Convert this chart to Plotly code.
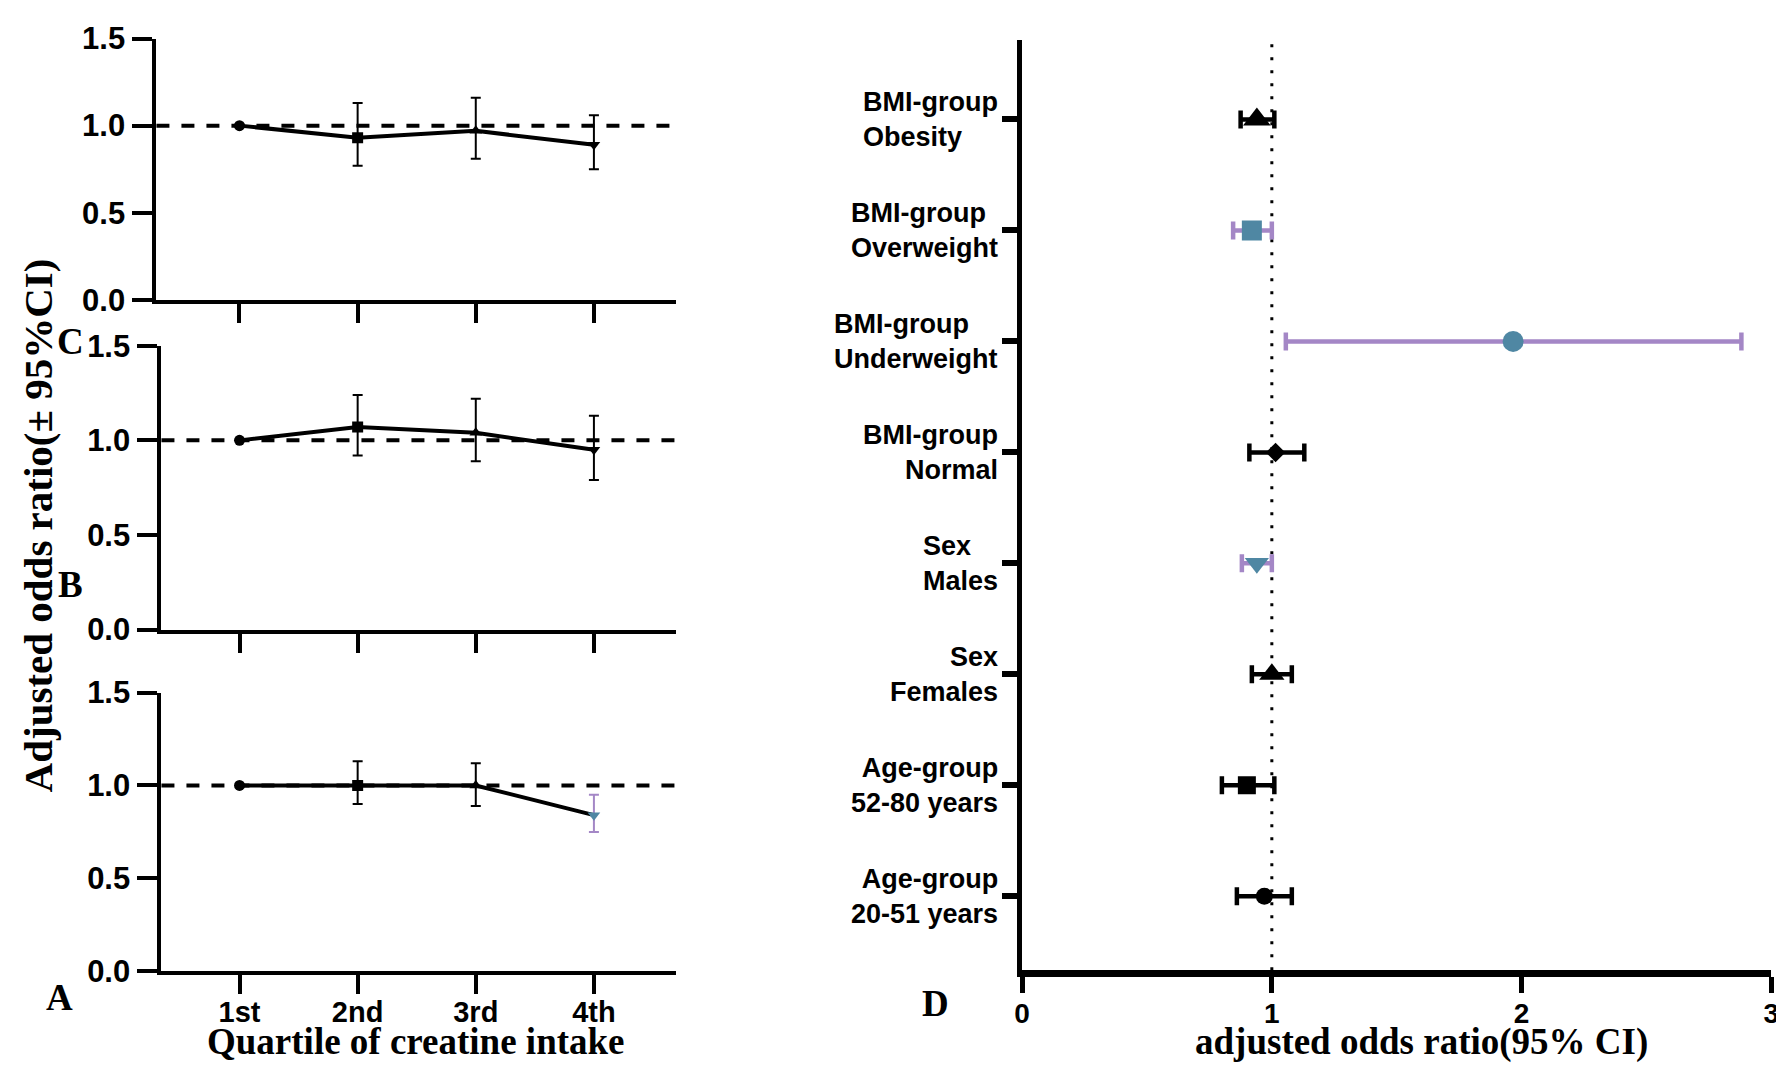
import plotly.graph_objects as go

# ---------------- data ----------------
quartiles = ["1st", "2nd", "3rd", "4th"]

# Panel C (top)
or_c = [1.00, 0.93, 0.97, 0.89]
lo_c = [1.00, 0.77, 0.81, 0.75]
hi_c = [1.00, 1.13, 1.16, 1.06]

# Panel B (middle)
or_b = [1.00, 1.07, 1.04, 0.95]
lo_b = [1.00, 0.92, 0.89, 0.79]
hi_b = [1.00, 1.24, 1.22, 1.13]

# Panel A (bottom)
or_a = [1.00, 1.00, 1.00, 0.84]
lo_a = [1.00, 0.90, 0.89, 0.75]
hi_a = [1.00, 1.13, 1.12, 0.95]

left_yticks = [0.0, 0.5, 1.0, 1.5]

# Panel D (forest), listed bottom -> top
groups = [
    "Age-group<br>20-51 years",
    "Age-group<br>52-80 years",
    "Sex<br>Females",
    "Sex<br>Males",
    "BMI-group<br>Normal",
    "BMI-group<br>Underweight",
    "BMI-group<br>Overweight",
    "BMI-group<br>Obesity",
]
aor = [0.97, 0.90, 1.00, 0.94, 1.015, 1.966, 0.92, 0.94]
aor_lo = [0.86, 0.80, 0.92, 0.88, 0.91, 1.056, 0.845, 0.875]
aor_hi = [1.08, 1.01, 1.08, 1.00, 1.13, 2.88, 1.00, 1.01]
forest_xticks = [0, 1, 2, 3]

# ---------------- styles / layout ----------------
W, H = 1784, 1070
BLUE = "#4F87A3"
PURPLE = "#A487C6"
BLACK = "#000000"
SANS = "Liberation Sans, Arial, sans-serif"
SERIF = "Liberation Serif, Times New Roman, serif"

left_symbols = ["circle", "square", "triangle-up", "triangle-down"]
left_marker_colors_a = [BLACK, BLACK, BLACK, BLUE]
left_err_colors_a = [BLACK, BLACK, BLACK, PURPLE]

f_symbols = ["circle", "square", "triangle-up", "triangle-down", "diamond", "circle", "square", "triangle-up"]
f_sizes = [17, 18, 22, 21, 15, 21, 20, 24]
f_mcolors = [BLACK, BLACK, BLACK, BLUE, BLACK, BLUE, BLUE, BLACK]
f_ecolors = [BLACK, BLACK, BLACK, PURPLE, BLACK, PURPLE, PURPLE, BLACK]
label_align = ["right", "right", "right", "left", "right", "left", "left", "left"]

# map target picture pixels to figure fractions
SX, SY, OX, OY = 0.988, 0.968, 17, 25

def px(r):
    return ((r - OX) / SX) / W

def py(r):
    c = max((r - OY) / SY, 14)
    return 1 - c / H

fig = go.Figure()

panels = [
    ("x", "y", or_c, lo_c, hi_c, [BLACK] * 4, [BLACK] * 4),
    ("x2", "y2", or_b, lo_b, hi_b, [BLACK] * 4, [BLACK] * 4),
    ("x3", "y3", or_a, lo_a, hi_a, left_marker_colors_a, left_err_colors_a),
]

for xa, ya, vals, lo, hi, mcols, ecols in panels:
    for col in sorted(set(ecols)):
        idx = [i for i in range(len(vals)) if ecols[i] == col and hi[i] != lo[i]]
        if not idx:
            continue
        fig.add_trace(go.Scatter(
            x=[quartiles[i] for i in idx], y=[vals[i] for i in idx],
            mode="markers", marker=dict(size=1, color="rgba(0,0,0,0)"),
            error_y=dict(type="data", symmetric=False,
                         array=[hi[i] - vals[i] for i in idx],
                         arrayminus=[vals[i] - lo[i] for i in idx],
                         color=col, thickness=2, width=5),
            xaxis=xa, yaxis=ya, showlegend=False, hoverinfo="skip"))
    fig.add_trace(go.Scatter(
        x=quartiles, y=vals, mode="lines+markers",
        line=dict(color=BLACK, width=4),
        marker=dict(symbol=left_symbols, size=11, color=mcols),
        xaxis=xa, yaxis=ya, showlegend=False))

for i, g in enumerate(groups):
    fig.add_trace(go.Scatter(
        x=[aor[i]], y=[g], mode="markers",
        marker=dict(symbol=f_symbols[i], size=f_sizes[i], color=f_mcolors[i]),
        error_x=dict(type="data", symmetric=False,
                     array=[aor_hi[i] - aor[i]], arrayminus=[aor[i] - aor_lo[i]],
                     color=f_ecolors[i], thickness=4.5, width=9),
        xaxis="x4", yaxis="y4", showlegend=False))

left_x = dict(type="category", categoryorder="array", categoryarray=quartiles,
              showline=True, linecolor=BLACK, linewidth=4, showgrid=False, zeroline=False,
              ticks="outside", ticklen=19, tickwidth=4, tickcolor=BLACK,
              tickfont=dict(family=SANS, size=29, color=BLACK, weight="bold"))
left_y = dict(range=[0, 1.5], tickvals=left_yticks, tickformat=".1f",
              showline=True, linecolor=BLACK, linewidth=4, showgrid=False, zeroline=False,
              ticks="outside", ticklen=20, tickwidth=4, tickcolor=BLACK,
              ticklabelstandoff=1,
              tickfont=dict(family=SANS, size=31, color=BLACK, weight="bold"))

fig.update_layout(
    width=W, height=H, margin=dict(l=0, r=0, t=0, b=0),
    paper_bgcolor="white", plot_bgcolor="white",
    xaxis=dict(left_x, domain=[px(157), px(675)], range=[-0.703, 3.695], anchor="y",
               showticklabels=False),
    yaxis=dict(left_y, domain=[py(300), py(18)], anchor="x"),
    xaxis2=dict(left_x, domain=[px(162), px(675)], range=[-0.661, 3.695], anchor="y2",
                showticklabels=False),
    yaxis2=dict(left_y, domain=[py(630), py(346)], anchor="x2"),
    xaxis3=dict(left_x, domain=[px(162), px(675)], range=[-0.661, 3.695], anchor="y3",
                ticklabelstandoff=-7),
    yaxis3=dict(left_y, domain=[py(972), py(693)], anchor="x3"),
    xaxis4=dict(domain=[px(1020), px(1767)], range=[0, 3], tickvals=forest_xticks,
                anchor="y4", showline=True, linecolor=BLACK, linewidth=7,
                showgrid=False, zeroline=False, ticks="outside", ticklen=16,
                tickwidth=5, tickcolor=BLACK, ticklabelstandoff=-4,
                tickfont=dict(family=SANS, size=28, color=BLACK, weight="bold")),
    yaxis4=dict(domain=[py(971), py(40)], type="category", categoryorder="array",
                categoryarray=groups, range=[-0.667, 7.716], anchor="x4",
                showline=True, linecolor=BLACK, linewidth=5, showgrid=False,
                zeroline=False, ticks="outside", ticklen=15, tickwidth=6,
                tickcolor=BLACK, showticklabels=False),
)

shapes = []
for xa, ya in [("x", "y"), ("x2", "y2"), ("x3", "y3")]:
    shapes.append(dict(type="line", xref=f"{xa} domain", yref=ya, x0=0, x1=1, y0=1, y1=1,
                       line=dict(color=BLACK, width=4, dash="13px,12px"), layer="below"))
shapes.append(dict(type="line", xref="x4", yref="y4 domain", x0=1, x1=1, y0=0, y1=1,
                   line=dict(color=BLACK, width=3, dash="3px,10px"), layer="below"))
fig.update_layout(shapes=shapes)

ann = []
for i, g in enumerate(groups):
    ann.append(dict(text=g, xref="paper", yref="y4", x=px(998), y=g,
                    xanchor="right", yanchor="middle", align=label_align[i],
                    showarrow=False,
                    font=dict(family=SANS, size=27, color=BLACK, weight="bold")))

title_font = dict(family=SERIF, size=37, color=BLACK, weight="bold")
ann.append(dict(text="Quartile of creatine intake", xref="paper", yref="paper",
                x=px(416), y=py(1042), xanchor="center", yanchor="middle",
                showarrow=False, font=title_font))
ann.append(dict(text="adjusted odds ratio(95% CI)", xref="paper", yref="paper",
                x=px(1418), y=py(1043), xanchor="center", yanchor="middle",
                showarrow=False, font=title_font))
ann.append(dict(text="Adjusted odds ratio(± 95%CI)", xref="paper", yref="paper",
                x=22 / W, y=py(526), xanchor="center", yanchor="middle", textangle=-90,
                showarrow=False, font=dict(family=SERIF, size=41, color=BLACK, weight="bold")))
letter_font = dict(family=SERIF, size=37, color=BLACK, weight="bold")
for t, lx, ly in [("C", 71, 342), ("B", 71, 585), ("A", 60, 998), ("D", 934, 1004)]:
    ann.append(dict(text=t, xref="paper", yref="paper", x=px(lx), y=py(ly),
                    xanchor="center", yanchor="middle", showarrow=False, font=letter_font))
fig.update_layout(annotations=ann)

fig.write_html("out.html")
